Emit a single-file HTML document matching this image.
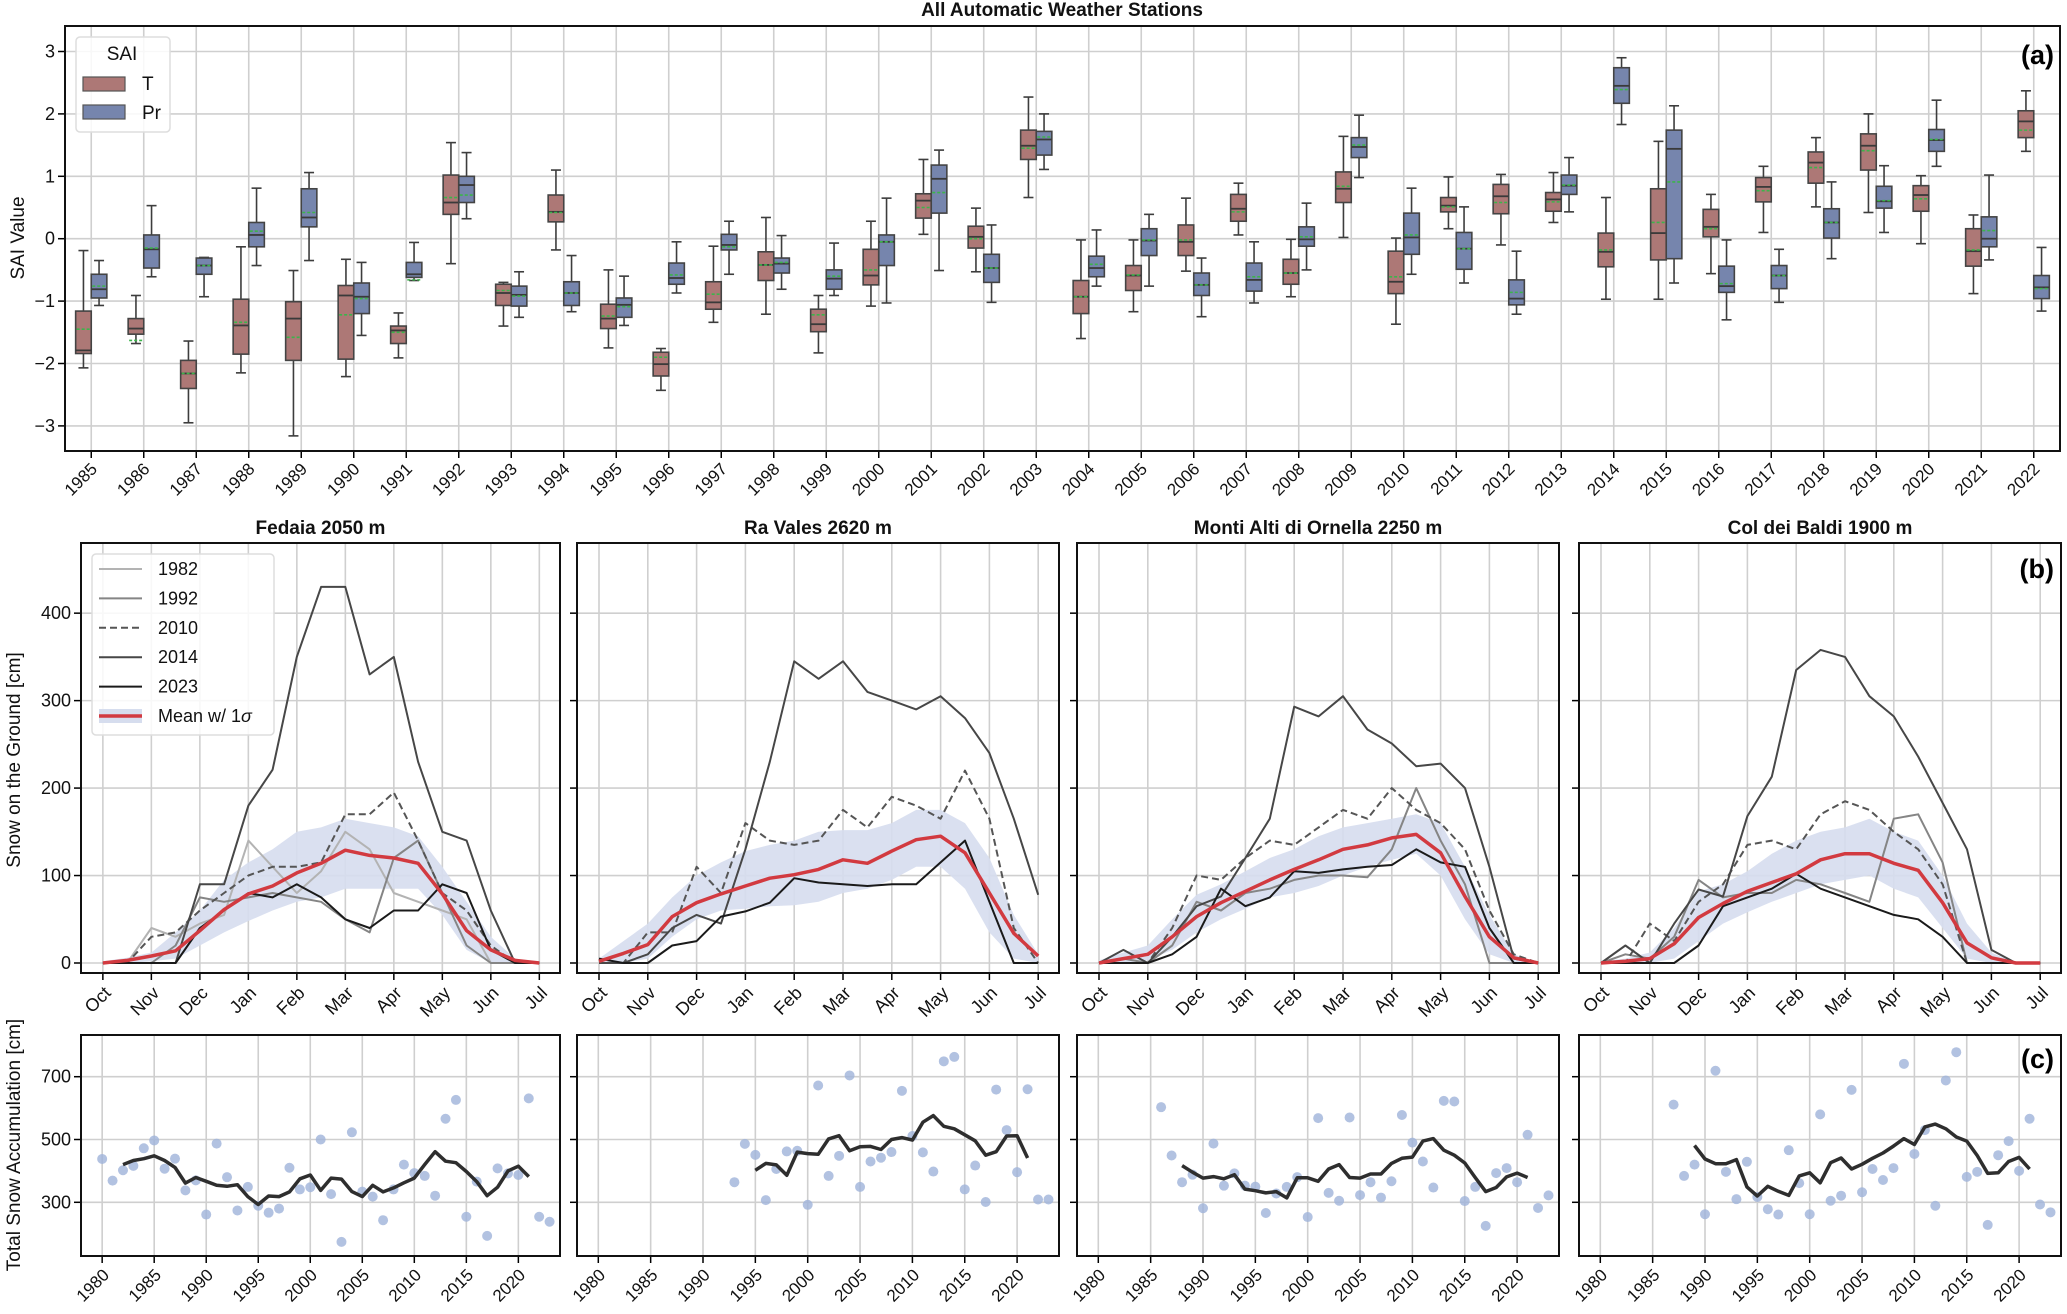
<!DOCTYPE html>
<html><head><meta charset="utf-8"><style>
html,body{margin:0;padding:0;background:#fff;}
svg{display:block;font-family:"Liberation Sans",Arial,sans-serif;}
</style></head><body>
<svg id="fig" width="2067" height="1314" viewBox="0 0 2067 1314" xmlns="http://www.w3.org/2000/svg"></svg>
<script>
// ---------- Panel (a) data ----------
const saiYears=[1985,1986,1987,1988,1989,1990,1991,1992,1993,1994,1995,1996,1997,1998,1999,2000,2001,2002,2003,2004,2005,2006,2007,2008,2009,2010,2011,2012,2013,2014,2015,2016,2017,2018,2019,2020,2021,2022];
// [low whisker, q1, median, q3, high whisker, mean]
const tBoxes=[[-2.07,-1.84,-1.79,-1.16,-0.19,-1.45],[-1.68,-1.53,-1.44,-1.28,-0.91,-1.63],[-2.95,-2.4,-2.16,-1.95,-1.64,-2.16],[-2.15,-1.85,-1.39,-0.97,-0.13,-1.34],[-3.16,-1.95,-1.28,-1.01,-0.51,-1.58],[-2.21,-1.93,-0.91,-0.75,-0.33,-1.22],[-1.91,-1.68,-1.47,-1.4,-1.19,-1.5],[-0.4,0.39,0.58,1.02,1.54,0.66],[-1.4,-1.07,-0.87,-0.73,-0.7,-0.83],[-0.18,0.27,0.43,0.7,1.1,0.42],[-1.75,-1.44,-1.28,-1.05,-0.5,-1.24],[-2.43,-2.2,-2.01,-1.82,-1.76,-1.9],[-1.34,-1.13,-1.02,-0.69,-0.12,-0.89],[-1.21,-0.67,-0.42,-0.21,0.34,-0.42],[-1.83,-1.49,-1.37,-1.13,-0.91,-1.22],[-1.08,-0.74,-0.59,-0.17,0.28,-0.5],[0.07,0.33,0.61,0.72,1.27,0.5],[-0.53,-0.15,0.03,0.2,0.49,0],[0.66,1.27,1.49,1.74,2.27,1.45],[-1.6,-1.2,-0.93,-0.67,-0.02,-0.93],[-1.17,-0.83,-0.59,-0.43,-0.02,-0.58],[-0.52,-0.27,-0.05,0.22,0.65,-0.02],[0.06,0.28,0.48,0.71,0.89,0.43],[-0.93,-0.73,-0.55,-0.33,-0.01,-0.55],[0.02,0.58,0.8,1.07,1.64,0.84],[-1.37,-0.88,-0.69,-0.2,0.01,-0.61],[0.16,0.43,0.53,0.66,0.99,0.51],[-0.1,0.4,0.68,0.87,1.03,0.58],[0.26,0.44,0.63,0.74,1.06,0.59],[-0.97,-0.45,-0.21,0.09,0.66,-0.18],[-0.97,-0.34,0.09,0.8,1.56,0.26],[-0.56,0.03,0.19,0.47,0.71,0.16],[0.1,0.59,0.83,0.98,1.16,0.77],[0.51,0.89,1.22,1.39,1.62,1.14],[0.42,1.1,1.49,1.68,2.0,1.41],[-0.08,0.44,0.7,0.85,1.01,0.64],[-0.88,-0.44,-0.2,0.16,0.38,-0.18],[1.4,1.62,1.88,2.05,2.37,1.74]];
const prBoxes=[[-1.07,-0.95,-0.81,-0.57,-0.35,-0.76],[-0.61,-0.47,-0.17,0.06,0.53,-0.15],[-0.93,-0.57,-0.43,-0.31,-0.3,-0.43],[-0.43,-0.13,0.06,0.26,0.81,0.12],[-0.35,0.19,0.34,0.8,1.06,0.42],[-1.55,-1.2,-0.93,-0.71,-0.38,-0.96],[-0.67,-0.62,-0.57,-0.38,-0.06,-0.66],[0.32,0.58,0.86,1.0,1.38,0.7],[-1.26,-1.08,-0.9,-0.76,-0.53,-0.92],[-1.17,-1.07,-0.87,-0.69,-0.27,-0.87],[-1.39,-1.26,-1.06,-0.95,-0.6,-1.09],[-0.87,-0.73,-0.63,-0.39,-0.05,-0.58],[-0.57,-0.18,-0.1,0.07,0.28,-0.13],[-0.81,-0.55,-0.4,-0.31,0.05,-0.38],[-0.91,-0.81,-0.64,-0.5,-0.07,-0.6],[-1.03,-0.43,-0.05,0.06,0.65,-0.05],[-0.51,0.41,0.96,1.18,1.42,0.74],[-1.02,-0.7,-0.47,-0.25,0.22,-0.47],[1.11,1.34,1.59,1.72,2.0,1.63],[-0.76,-0.61,-0.47,-0.28,0.14,-0.41],[-0.76,-0.27,-0.03,0.16,0.39,-0.02],[-1.25,-0.91,-0.74,-0.55,-0.31,-0.74],[-1.03,-0.84,-0.66,-0.39,-0.05,-0.61],[-0.5,-0.12,-0.01,0.19,0.57,0.03],[0.98,1.3,1.47,1.62,1.98,1.5],[-0.57,-0.25,0.02,0.41,0.81,0.06],[-0.71,-0.49,-0.16,0.1,0.51,-0.16],[-1.21,-1.06,-0.96,-0.66,-0.2,-0.86],[0.43,0.71,0.85,1.02,1.3,0.86],[1.83,2.17,2.45,2.74,2.9,2.39],[-0.71,-0.32,1.44,1.74,2.13,0.91],[-1.3,-0.86,-0.76,-0.44,-0.02,-0.72],[-1.02,-0.8,-0.59,-0.43,-0.17,-0.59],[-0.32,0.01,0.26,0.48,0.91,0.26],[0.1,0.49,0.6,0.84,1.17,0.61],[1.16,1.4,1.58,1.75,2.22,1.59],[-0.34,-0.13,0,0.35,1.02,0.13],[-1.16,-0.96,-0.78,-0.59,-0.14,-0.8]];
const saiTicks=[-3,-2,-1,0,1,2,3];

// ---------- Panel (b) data: half-month samples from Oct 1 (0) to Jul 1 (9) ----------
const monthLabels=["Oct","Nov","Dec","Jan","Feb","Mar","Apr","May","Jun","Jul"];
const snowTicks=[0,100,200,300,400];
const fedMean=[0,3,8,14,37,61,79,88,103,114,129,123,120,114,79,37,15,3,0];
const fedUp=[2,6,12,35,60,95,115,130,150,155,165,160,155,145,110,70,30,5,0];
const fedLo=[0,0,2,5,20,35,48,60,70,75,85,85,85,85,55,15,0,0,0];
const fed1982=[0,0,40,30,45,55,140,110,80,105,150,130,80,70,60,50,0,0,0];
const fed1992=[0,0,0,20,75,70,75,80,75,70,50,35,120,140,80,20,0,0,0];
const fed2010=[0,0,30,35,60,80,100,110,110,115,170,170,195,140,80,60,20,0,0];
const fed2014=[0,0,0,0,90,90,180,221,350,430,430,330,350,230,150,140,60,0,0];
const fed2023=[0,0,0,0,40,60,80,75,90,75,50,40,60,60,90,80,15,0,0];
const raMean=[2,11,21,53,69,79,88,97,101,107,118,114,128,141,145,126,80,34,8];
const raUp=[5,25,45,75,100,115,128,135,140,150,152,152,160,175,175,160,120,55,10];
const raLo=[0,0,5,30,50,60,62,65,66,70,80,85,95,110,110,85,35,5,0];
const ra2010=[0,0,35,35,110,80,160,140,135,140,175,155,190,180,165,220,165,40,0];
const ra2014=[0,0,10,40,55,45,130,230,345,325,345,310,300,290,305,280,240,165,78];
const ra2023=[5,0,0,20,25,53,59,69,97,92,90,88,90,90,115,140,70,0,0];
const moMean=[0,5,10,30,53,69,82,95,107,118,130,135,143,147,126,76,30,6,0];
const moUp=[3,12,20,50,78,90,105,120,130,145,155,160,165,170,160,110,55,10,0];
const moLo=[0,0,3,15,35,50,62,75,80,88,100,110,118,125,100,50,10,0,0];
const mo1992=[0,5,0,20,70,60,80,85,95,100,100,98,130,200,140,90,0,0,0];
const mo2010=[0,0,0,40,100,95,120,140,135,155,175,165,200,175,160,130,60,10,0];
const mo2014=[0,15,0,30,65,76,120,165,293,282,305,267,251,225,228,200,110,5,0];
const mo2023=[0,0,0,10,30,85,65,75,105,103,107,110,112,130,115,110,40,0,0];
const colMean=[0,2,5,22,52,68,82,92,102,118,125,125,114,106,69,23,6,0,0];
const colUp=[2,5,12,40,82,90,105,125,140,150,155,165,150,140,100,45,12,0,0];
const colLo=[0,0,0,5,25,45,58,70,80,90,95,100,85,75,40,5,0,0,0];
const col1992=[0,10,5,30,95,75,80,80,95,90,80,70,165,170,115,0,0,0,0];
const col2010=[0,0,45,25,70,90,135,140,130,170,185,175,150,130,90,0,0,0,0];
const col2014=[0,20,0,45,84,76,168,213,335,358,350,305,282,236,183,130,15,0,0];
const col2023=[0,0,0,0,20,65,75,85,102,85,75,65,55,50,30,0,0,0,0];

// ---------- Panel (c) data ----------
const accTicks=[300,500,700];
const yearTicks=[1980,1985,1990,1995,2000,2005,2010,2015,2020];
const fedAccStart=1980;
const fedAcc=[438,369,402,416,472,497,407,439,338,370,261,487,380,274,349,289,267,280,410,341,348,500,326,174,523,334,318,243,341,420,393,384,321,566,626,254,366,193,408,392,387,631,254,238];
const fedRollStart=1982;
const fedRoll=[420,433,439,448,433,411,361,379,367,354,351,356,318,293,320,318,333,375,387,338,377,374,334,318,354,333,346,362,377,420,461,431,426,398,366,321,348,400,415,382];
const raAccStart=1993;
const raAcc=[364,486,451,307,406,462,464,292,672,384,448,704,349,430,442,460,655,511,459,398,749,763,341,417,301,659,530,396,660,309,309];
const raRollStart=1995;
const raRoll=[402,424,419,386,460,455,453,502,512,464,477,478,468,500,506,498,555,576,542,534,515,496,450,461,511,512,441];
const moAccStart=1986;
const moAcc=[603,449,364,388,281,487,353,392,353,350,266,328,349,380,253,568,330,305,570,323,364,315,367,578,490,430,347,623,621,304,349,225,393,409,364,515,282,322];
const moRollStart=1988;
const moRoll=[417,396,377,382,375,388,342,337,330,334,314,378,378,367,406,420,379,377,390,390,424,440,444,495,503,466,450,425,379,334,347,381,393,379];
const colAccStart=1987;
const colAcc=[611,384,420,262,719,397,310,429,317,278,261,466,361,262,580,305,321,658,332,406,371,409,741,454,530,289,688,778,381,397,228,450,495,400,566,293,268];
const colRollStart=1989;
const colRoll=[481,438,423,423,436,349,320,351,335,322,384,394,362,426,441,406,421,440,457,479,503,484,540,549,534,508,495,449,392,394,430,443,406];

// ---------- drawing ----------
const NS="http://www.w3.org/2000/svg";
const svg=document.getElementById('fig');
function mk(tag,attrs,parent){const e=document.createElementNS(NS,tag);for(const k in attrs)e.setAttribute(k,attrs[k]);(parent||svg).appendChild(e);return e;}
function txt(s,attrs,parent){const e=mk('text',attrs,parent);e.textContent=s;return e;}

// Panel (a)
const A={L:65,R:2060,T:26,B:451};
const ay=v=>238.7-v*62.4;
const ax=i=>91.25+i*52.5;
const gA=mk('g',{});


saiTicks.forEach(v=>{
  const l=mk('line',{x1:A.L,x2:A.R,y1:ay(v),y2:ay(v),stroke:'#cfcfcf','stroke-width':1.6},gA);
  
  mk('line',{x1:A.L-7,x2:A.L,y1:ay(v),y2:ay(v),stroke:'#000','stroke-width':1.5},gA);
  const t=txt(String(v).replace('-','\u2212'),{x:A.L-10,y:ay(v)+6,'text-anchor':'end','font-size':18,fill:'#111'},gA);
  
});
saiYears.forEach((yr,i)=>{
  const x=ax(i);
  mk('line',{x1:x,x2:x,y1:A.T,y2:A.B,stroke:'#cfcfcf','stroke-width':1.6},gA);
  mk('line',{x1:x,x2:x,y1:A.B,y2:A.B+7,stroke:'#000','stroke-width':1.5},gA);
  const t=txt(String(yr),{x:x+7,y:A.B+19,'text-anchor':'end','font-size':17,fill:'#111',transform:`rotate(-45 ${x+7} ${A.B+19})`},gA);
  
});
function drawBox(b,x0,x1,fill,name){
  const g=mk('g',{},gA);
  
  const cx=(x0+x1)/2;
  mk('line',{x1:cx,x2:cx,y1:ay(b[0]),y2:ay(b[1]),stroke:'#3d3d3d','stroke-width':1.6},g);
  mk('line',{x1:cx,x2:cx,y1:ay(b[3]),y2:ay(b[4]),stroke:'#3d3d3d','stroke-width':1.6},g);
  mk('line',{x1:cx-5,x2:cx+5,y1:ay(b[0]),y2:ay(b[0]),stroke:'#3d3d3d','stroke-width':1.6},g);
  mk('line',{x1:cx-5,x2:cx+5,y1:ay(b[4]),y2:ay(b[4]),stroke:'#3d3d3d','stroke-width':1.6},g);
  mk('rect',{x:x0,y:ay(b[3]),width:x1-x0,height:ay(b[1])-ay(b[3]),fill:fill,stroke:'#444','stroke-width':1.6},g);
  mk('line',{x1:x0,x2:x1,y1:ay(b[2]),y2:ay(b[2]),stroke:'#3a3a3a','stroke-width':1.8},g);
  mk('line',{x1:x0+1,x2:x1-1,y1:ay(b[5]),y2:ay(b[5]),stroke:'#3cb44b','stroke-width':1.6,'stroke-dasharray':'3,2'},g);
}
saiYears.forEach((yr,i)=>{
  const x=ax(i);
  drawBox(tBoxes[i],x-15.6,x,'#ad7876','box-t-'+yr);
  drawBox(prBoxes[i],x,x+15.6,'#7685ad','box-pr-'+yr);
});
mk('rect',{x:A.L,y:A.T,width:A.R-A.L,height:A.B-A.T,fill:'none',stroke:'#111','stroke-width':2},gA);
const tt=txt('All Automatic Weather Stations',{x:1062,y:16,'text-anchor':'middle','font-size':19,'font-weight':'bold',fill:'#111'});

const la=txt('(a)',{x:2054,y:64,'text-anchor':'end','font-size':27,'font-weight':'bold',fill:'#000'});

const yl1=txt('SAI Value',{x:24,y:238,'text-anchor':'middle','font-size':19,fill:'#111',transform:'rotate(-90 24 238)'});

// legend a
const lgA=mk('g',{});

mk('rect',{x:76,y:37,width:94,height:95,rx:4,fill:'#fff','fill-opacity':0.85,stroke:'#ddd','stroke-width':1.5},lgA);
txt('SAI',{x:122,y:60,'text-anchor':'middle','font-size':19,fill:'#111'},lgA);
const le1=mk('rect',{x:83,y:77,width:42,height:14,fill:'#ad7876',stroke:'#555','stroke-width':1.2},lgA);

txt('T',{x:142,y:90,'font-size':19,fill:'#111'},lgA);
const le2=mk('rect',{x:83,y:105,width:42,height:14,fill:'#7685ad',stroke:'#555','stroke-width':1.2},lgA);

txt('Pr',{x:142,y:119,'font-size':19,fill:'#111'},lgA);

// Panels (b) and (c)
const stations=[
 {name:'Fedaia 2050 m',key:'fedaia',L:81,W:479,mean:fedMean,up:fedUp,lo:fedLo,lines:[['1982',fed1982],['1992',fed1992],['2010',fed2010],['2014',fed2014],['2023',fed2023]],acc:fedAcc,accStart:fedAccStart,roll:fedRoll,rollStart:fedRollStart},
 {name:'Ra Vales 2620 m',key:'ra-vales',L:577,W:482,mean:raMean,up:raUp,lo:raLo,lines:[['2010',ra2010],['2014',ra2014],['2023',ra2023]],acc:raAcc,accStart:raAccStart,roll:raRoll,rollStart:raRollStart},
 {name:'Monti Alti di Ornella 2250 m',key:'monti-alti',L:1077,W:482,mean:moMean,up:moUp,lo:moLo,lines:[['1992',mo1992],['2010',mo2010],['2014',mo2014],['2023',mo2023]],acc:moAcc,accStart:moAccStart,roll:moRoll,rollStart:moRollStart},
 {name:'Col dei Baldi 1900 m',key:'col-dei-baldi',L:1579,W:482,mean:colMean,up:colUp,lo:colLo,lines:[['1992',col1992],['2010',col2010],['2014',col2014],['2023',col2023]],acc:colAcc,accStart:colAccStart,roll:colRoll,rollStart:colRollStart}
];
const lineStyle={'1982':{c:'#b3b3b3',d:''},'1992':{c:'#858585',d:''},'2010':{c:'#555',d:'7,4'},'2014':{c:'#474747',d:''},'2023':{c:'#1a1a1a',d:''}};
const B={T:543,B:973};
const by=v=>963-v*0.8746;
const C={T:1035,B:1256};
const cy=v=>1076.7-(v-700)*0.314;

stations.forEach((s,si)=>{
  const L=s.L,W=s.W,R=L+W;
  const k=W/482;
  const bx=t=>L+22*k+t*48.8*k;
  const cx=yr=>L+21.3*k+(yr-1980)*10.47*k;
  const g=mk('g',{});
  
  
  monthLabels.forEach((m,i)=>{
    const x=bx(i);
    mk('line',{x1:x,x2:x,y1:B.T,y2:B.B,stroke:'#cfcfcf','stroke-width':1.6},g);
    mk('line',{x1:x,x2:x,y1:B.B,y2:B.B+7,stroke:'#000','stroke-width':1.5},g);
    const t=txt(m,{x:x+9,y:B.B+21,'text-anchor':'end','font-size':18,fill:'#111',transform:`rotate(-45 ${x+9} ${B.B+21})`},g);
    
  });
  snowTicks.forEach(v=>{
    mk('line',{x1:L,x2:R,y1:by(v),y2:by(v),stroke:'#cfcfcf','stroke-width':1.6},g);
    mk('line',{x1:L-7,x2:L,y1:by(v),y2:by(v),stroke:'#000','stroke-width':1.5},g);
    if(si===0){const t=txt(String(v),{x:L-10,y:by(v)+6,'text-anchor':'end','font-size':18,fill:'#111'},g);
      }
  });
  let d='';
  s.up.forEach((v,i)=>{d+=(i?'L':'M')+bx(i*0.5).toFixed(1)+' '+by(v).toFixed(1);});
  for(let i=s.lo.length-1;i>=0;i--)d+='L'+bx(i*0.5).toFixed(1)+' '+by(s.lo[i]).toFixed(1);
  const band=mk('path',{d:d+'Z',fill:'#d6ddee','fill-opacity':0.9},g);
  
  s.lines.forEach(([yr,arr])=>{
    const st=lineStyle[yr];
    const p=mk('polyline',{points:arr.map((v,i)=>bx(i*0.5).toFixed(1)+','+by(v).toFixed(1)).join(' '),fill:'none',stroke:st.c,'stroke-width':2,'stroke-dasharray':st.d,'stroke-linejoin':'round'},g);
    
  });
  const mp=mk('polyline',{points:s.mean.map((v,i)=>bx(i*0.5).toFixed(1)+','+by(v).toFixed(1)).join(' '),fill:'none',stroke:'#d23a40','stroke-width':3.5,'stroke-linejoin':'round'},g);
  
  mk('rect',{x:L,y:B.T,width:W,height:B.B-B.T,fill:'none',stroke:'#111','stroke-width':2},g);
  const ti=txt(s.name,{x:L+W/2,y:534,'text-anchor':'middle','font-size':19,'font-weight':'bold',fill:'#111'},g);
  

  const gc=mk('g',{});
  
  
  yearTicks.forEach(yr=>{
    const x=cx(yr);
    mk('line',{x1:x,x2:x,y1:C.T,y2:C.B,stroke:'#cfcfcf','stroke-width':1.6},gc);
    mk('line',{x1:x,x2:x,y1:C.B,y2:C.B+7,stroke:'#000','stroke-width':1.5},gc);
    const t=txt(String(yr),{x:x+8,y:C.B+20,'text-anchor':'end','font-size':17,fill:'#111',transform:`rotate(-45 ${x+8} ${C.B+20})`},gc);
    
  });
  accTicks.forEach(v=>{
    mk('line',{x1:L,x2:R,y1:cy(v),y2:cy(v),stroke:'#cfcfcf','stroke-width':1.6},gc);
    mk('line',{x1:L-7,x2:L,y1:cy(v),y2:cy(v),stroke:'#000','stroke-width':1.5},gc);
    if(si===0){const t=txt(String(v),{x:L-10,y:cy(v)+6,'text-anchor':'end','font-size':18,fill:'#111'},gc);
      }
  });
  s.acc.forEach((v,i)=>{
    const c=mk('circle',{cx:cx(s.accStart+i),cy:cy(v),r:5,fill:'#9fb3da','fill-opacity':0.8},gc);
    
  });
  const rp=mk('polyline',{points:s.roll.map((v,i)=>cx(s.rollStart+i).toFixed(1)+','+cy(v).toFixed(1)).join(' '),fill:'none',stroke:'#2e2e2e','stroke-width':3.5,'stroke-linejoin':'round'},gc);
  
  mk('rect',{x:L,y:C.T,width:W,height:C.B-C.T,fill:'none',stroke:'#111','stroke-width':2},gc);
});
const lb=txt('(b)',{x:2054,y:578,'text-anchor':'end','font-size':27,'font-weight':'bold',fill:'#000'});

const lc=txt('(c)',{x:2054,y:1068,'text-anchor':'end','font-size':27,'font-weight':'bold',fill:'#000'});

const yl2=txt('Snow on the Ground [cm]',{x:20,y:760,'text-anchor':'middle','font-size':19,fill:'#111',transform:'rotate(-90 20 760)'});

const yl3=txt('Total Snow Accumulation [cm]',{x:20,y:1145,'text-anchor':'middle','font-size':19,fill:'#111',transform:'rotate(-90 20 1145)'});


// legend b
const lgB=mk('g',{});

mk('rect',{x:92,y:554,width:182,height:181,rx:4,fill:'#fff','fill-opacity':0.85,stroke:'#ddd','stroke-width':1.5},lgB);
const legYears=['1982','1992','2010','2014','2023'];
legYears.forEach((yr,i)=>{
  const y=569+i*29.4;
  const l=mk('line',{x1:99,x2:142,y1:y,y2:y,stroke:lineStyle[yr].c,'stroke-width':2,'stroke-dasharray':lineStyle[yr].d},lgB);
  
  txt(yr,{x:158,y:y+6,'font-size':18,fill:'#111'},lgB);
});
mk('rect',{x:99,y:709,width:43,height:14,fill:'#d6ddee'},lgB);
const lm=mk('line',{x1:99,x2:142,y1:716,y2:716,stroke:'#d23a40','stroke-width':3.5},lgB);

const mt=txt('Mean w/ 1',{x:158,y:722,'font-size':18,fill:'#111'},lgB);
const ts=document.createElementNS(NS,'tspan');ts.setAttribute('font-style','italic');ts.textContent='σ';mt.appendChild(ts);
</script>
</body></html>
